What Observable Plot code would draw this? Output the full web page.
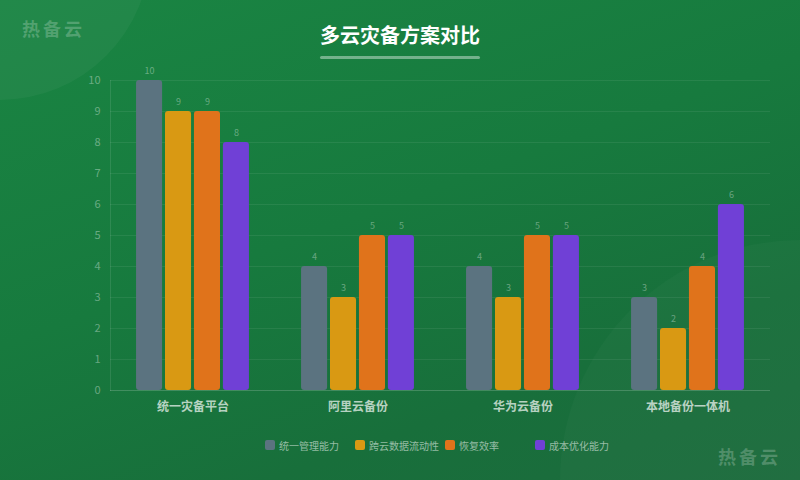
<!DOCTYPE html>
<html><head><meta charset="utf-8">
<script src="https://cdn.jsdelivr.net/npm/d3@7"></script>
<script src="https://cdn.jsdelivr.net/npm/@observablehq/plot@0.6"></script>
<style>
html,body{margin:0;padding:0;}
body{width:800px;height:480px;overflow:hidden;font-family:"Noto Sans CJK SC","Noto Sans",sans-serif;}
#wrap{position:relative;width:800px;height:480px;overflow:hidden;
 background:linear-gradient(160deg,#1a8543 0%,#177a3e 45%,#186f3b 75%,#1c6b3d 100%);}
.deco1{position:absolute;left:-150px;top:-200px;width:300px;height:300px;border-radius:50%;background:rgba(255,255,255,0.04);}
.deco2{position:absolute;left:560px;top:240px;width:480px;height:480px;border-radius:50%;background:rgba(255,255,255,0.025);}
.wm{position:absolute;color:rgba(255,255,255,0.22);font-weight:700;font-size:18px;letter-spacing:3px;}
#title{position:absolute;left:0;width:800px;top:20px;text-align:center;color:#fff;font-weight:700;font-size:20px;}
#uline{position:absolute;left:320px;top:56px;width:160px;height:3px;border-radius:2px;background:rgba(255,255,255,0.4);}
#chart{position:absolute;left:0;top:0;}
#legend{position:absolute;top:440px;left:265px;font-size:10px;color:rgba(255,255,255,0.55);}
.li{position:absolute;top:0;white-space:nowrap;}
.sw{position:absolute;left:0;top:0;width:10px;height:10px;border-radius:2px;}
.lt{position:absolute;left:14px;top:-1px;line-height:13px;}
</style></head>
<body>
<div id="wrap">
 <div class="deco1"></div><div class="deco2"></div>
 <div class="wm" style="left:22px;top:15px;">热备云</div>
 <div class="wm" style="left:718px;top:443px;">热备云</div>
 <div id="title">多云灾备方案对比</div>
 <div id="uline"></div>
 <div id="chart"></div>
 <div id="legend"></div>
</div>
<script>
const platforms = ["统一灾备平台", "阿里云备份", "华为云备份", "本地备份一体机"];
const metrics = ["统一管理能力", "跨云数据流动性", "恢复效率", "成本优化能力"];
const colors = ["#5b7380", "#d99913", "#e0731b", "#7040d6"];
const unifiedMgmt = [10, 4, 4, 3];
const crossCloudFlow = [9, 3, 3, 2];
const recoveryEff = [9, 5, 5, 4];
const costOpt = [8, 5, 5, 6];
const yTicks = [0,1,2,3,4,5,6,7,8,9,10];

const series = [unifiedMgmt, crossCloudFlow, recoveryEff, costOpt];
const data = [];
platforms.forEach((p, i) => metrics.forEach((m, j) => data.push({platform: p, metric: m, value: series[j][i]})));

const faint = "rgba(255,255,255,0.35)";
const chart = Plot.plot({
  width: 800, height: 480,
  marginTop: 80, marginBottom: 90, marginLeft: 110, marginRight: 30,
  style: {background: "transparent", overflow: "visible", fontFamily: "'Noto Sans CJK SC', sans-serif"},
  fx: {domain: platforms, padding: 0, round: false, label: null, axis: null},
  x: {domain: metrics, paddingInner: 0.1, paddingOuter: 0.9, round: false, axis: null},
  y: {domain: [0, 10], axis: null},
  color: {domain: metrics, range: colors},
  marks: [
    Plot.gridY(yTicks, {stroke: "rgba(255,255,255,0.07)", strokeOpacity: 1, strokeWidth: 1}),
    Plot.ruleY([0], {stroke: "rgba(255,255,255,0.12)"}),
    Plot.axisY({ticks: yTicks, tickSize: 0, tickPadding: 10, fontSize: 11, fill: "rgba(255,255,255,0.36)", label: null, facetAnchor: "left"}),
    Plot.frame({anchor: "left", stroke: "rgba(255,255,255,0.1)", facetAnchor: "left"}),
    Plot.barY(data, {fx: "platform", x: "metric", y: "value", fill: "metric", rx: 3,
      style: "filter: drop-shadow(2px 3px 3px rgba(0,0,0,0.25))"}),
    Plot.text(data, {fx: "platform", x: "metric", y: "value", text: d => String(d.value), dy: -7, lineAnchor: "bottom", fontSize: 9, fill: faint}),
    Plot.axisFx({domain: platforms, anchor: "bottom", tickSize: 0, tickPadding: 12, fontSize: 12, fontWeight: "bold", fill: "rgba(255,255,255,0.7)", label: null})
  ]
});
document.getElementById("chart").appendChild(chart);

const lg = document.getElementById("legend");
metrics.forEach((m, j) => {
  const d = document.createElement("div");
  d.className = "li"; d.style.left = (j * 90) + "px";
  d.innerHTML = `<div class="sw" style="background:${colors[j]}"></div><div class="lt">${m}</div>`;
  lg.appendChild(d);
});
</script>
</body></html>
